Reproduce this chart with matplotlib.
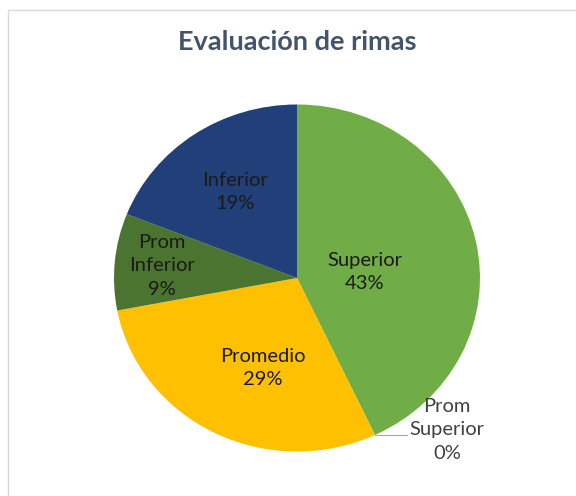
import numpy as np
import matplotlib.pyplot as plt
from matplotlib.patches import Rectangle

categories = ['Superior', 'Prom\nSuperior', 'Promedio', 'Prom\nInferior', 'Inferior']
values = [43, 0, 29, 9, 19]
colors = ['#70AD47', '#A5A5A5', '#FFC000', '#4B7430', '#213F78']

plt.rcParams['font.family'] = ['Lato', 'DejaVu Sans']

fig = plt.figure(figsize=(5.76, 4.96), dpi=100)

# chart frame like the Excel chart area
fig.patches.append(Rectangle((8 / 576, -0.01), 1.1, 1 - 10 / 496 + 0.01,
                             transform=fig.transFigure, fill=False,
                             edgecolor='#D9D9D9', linewidth=1))

fig.text(297 / 576, 1 - 42 / 496, 'Evaluación de rimas', ha='center', va='center',
         fontsize=19.5, fontweight='bold', color='#44546A')

# pie is a bit wider than tall in the reference
rx, ry = 183, 173.5
ax = fig.add_axes([(297 - rx) / 576, (496 - 278 - ry) / 496, 2 * rx / 576, 2 * ry / 496])
wedges, _ = ax.pie(values, colors=colors, startangle=90, counterclock=False,
                   wedgeprops=dict(linewidth=0))
ax.set_aspect('auto')
ax.set_xlim(-1, 1)
ax.set_ylim(-1, 1)
ax.axis('off')

total = sum(values)
dist = [0.37, None, 0.55, 0.74, 0.6]
ang_off = [-7, 0, 7, 0, 0]
txt_color = ['#1a1a1a', '#404040', '#1a1a1a', '#1a1a1a', '#1a1a1a']
for i, w in enumerate(wedges):
    mid = np.deg2rad((w.theta1 + w.theta2) / 2 + ang_off[i])
    label = f'{categories[i]}\n{values[i] / total:.0%}'
    if dist[i] is None:
        # zero slice: label outside with a leader line
        a = np.deg2rad(w.theta1)
        x0, y0 = np.cos(a), np.sin(a)
        ax.plot([x0, 0.6], [y0, y0], color='#A6A6A6', linewidth=0.8, clip_on=False)
        ax.text(0.82, -0.875, label, ha='center', va='center', fontsize=14.5,
                color=txt_color[i], linespacing=1.45)
    else:
        ax.text(dist[i] * np.cos(mid), dist[i] * np.sin(mid), label, ha='center',
                va='center', fontsize=14.5, color=txt_color[i], linespacing=1.45)

fig.savefig('out.png', dpi=100)
